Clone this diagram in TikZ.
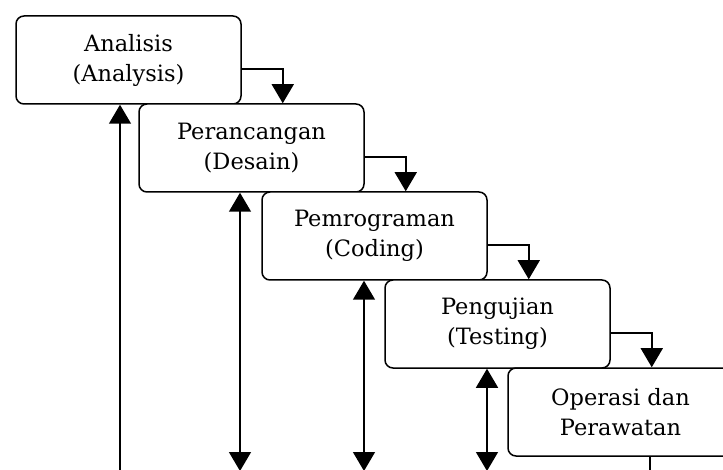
\documentclass[tikz,border=0pt]{standalone}
\usepackage{fontspec}
\setmainfont{DejaVu Serif}
\usepackage{tikz}
\usetikzlibrary{arrows.meta}

\tikzset{
    tahap/.style={draw=black, fill=white, rounded corners=8pt, line width=1.5pt,
        minimum width=225pt, minimum height=88pt, align=center,
        font=\fontsize{22.5}{30}\selectfont},
    panah/.style={draw=black, line width=1.5pt, -{Triangle[width=22pt,length=19pt]}},
    panahdua/.style={draw=black, line width=1.5pt, {Triangle[width=22pt,length=19pt]}-{Triangle[width=22pt,length=19pt]}}
}

\begin{document}
\begin{tikzpicture}[x=1pt, y=-1pt]
    \useasboundingbox (0,0) rectangle (723,470);
    \clip (0,0) rectangle (723,470);

    \node[tahap] (analisis) at (128.5,60) {Analisis\\(Analysis)};
    \node[tahap] (desain) at (251.5,148) {Perancangan\\(Desain)};
    \node[tahap] (coding) at (374.5,236) {Pemrograman\\(Coding)};
    \node[tahap] (testing) at (497.5,324) {Pengujian\\(Testing)};
    \node[tahap] (operasi) at (620.5,412) {Operasi dan\\Perawatan};

    \coordinate (k1) at ([xshift=41pt]analisis.east);
    \coordinate (k2) at ([xshift=41pt]desain.east);
    \coordinate (k3) at ([xshift=41pt]coding.east);
    \coordinate (k4) at ([xshift=41pt]testing.east);

    \draw[panah] ([yshift=-9pt]analisis.east) -| (k1 |- desain.north);
    \draw[panah] ([yshift=-9pt]desain.east) -| (k2 |- coding.north);
    \draw[panah] ([yshift=-9pt]coding.east) -| (k3 |- testing.north);
    \draw[panah] ([yshift=-9pt]testing.east) -| (k4 |- operasi.north);

    \coordinate (b1) at (120,470);
    \coordinate (b2) at (240,471);
    \coordinate (b3) at (364,471);
    \coordinate (b4) at (487,471);
    \coordinate (b5) at (650,475);

    \draw[panah] (b1) -- (b1 |- analisis.south);
    \draw[panahdua] (b2 |- desain.south) -- (b2);
    \draw[panahdua] (b3 |- coding.south) -- (b3);
    \draw[panahdua] (b4 |- testing.south) -- (b4);
    \draw[line width=1.5pt] (b5 |- operasi.south) -- (b5);
\end{tikzpicture}
\end{document}
